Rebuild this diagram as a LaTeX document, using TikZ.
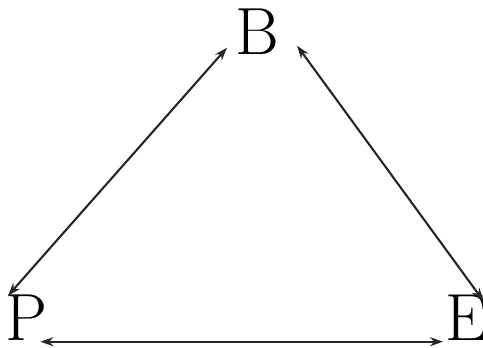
\documentclass[tikz,border=0pt]{standalone}
\usetikzlibrary{arrows.meta}

\begin{document}
\begin{tikzpicture}[>={Stealth[length=1.3mm,width=0.9mm]}, line cap=round, line join=round,
  letter/.style={inner sep=0pt, font=\fontsize{19}{23}\selectfont},
  link/.style={<->, line width=0.6pt, black!85}]

\useasboundingbox (0,0) rectangle (4.83,3.47);

\node[letter, anchor=base west] (B) at (2.35,2.92) {B};
\node[letter, anchor=base west] (P) at (0.05,0.06) {P};
\node[letter, anchor=base west] (E) at (4.45,0.06) {E};

\draw[link] ([shift={(-0.08,0.08)}]B.south west) -- ([shift={(0.03,-0.01)}]P.north west);
\draw[link] ([shift={(0.17,0.10)}]B.south east) -- ([shift={(-0.05,-0.06)}]E.north east);
\draw[link] ([shift={(-0.08,0)}]P.south east) -- ([shift={(-0.02,0)}]E.south west);

      \end{tikzpicture}
\end{document}
